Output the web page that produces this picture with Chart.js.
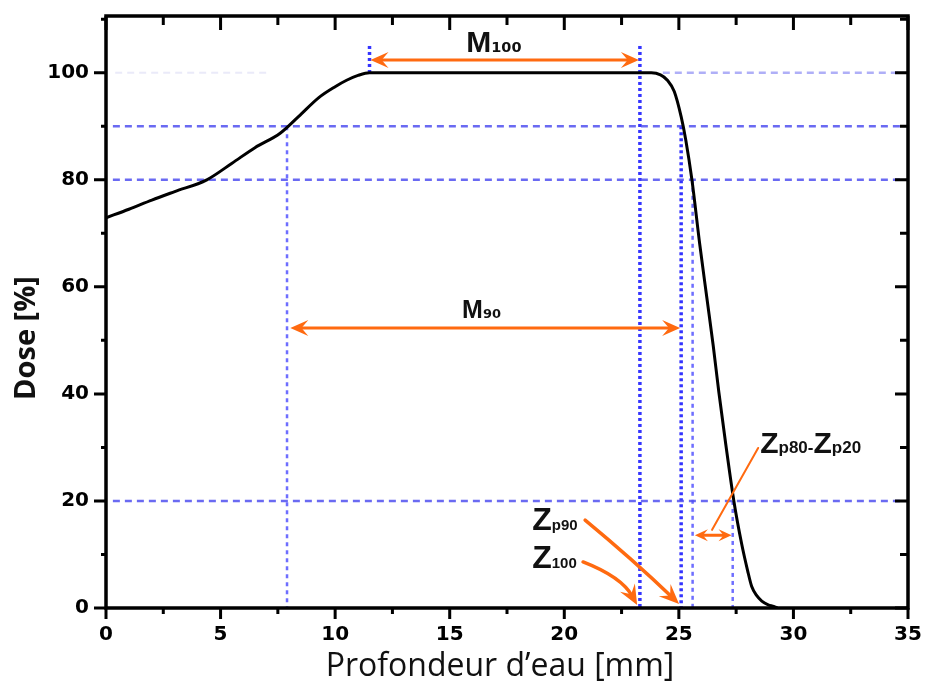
<!DOCTYPE html>
<html>
<head>
<meta charset="utf-8">
<script src="https://cdn.jsdelivr.net/npm/chart.js@4.4.1/dist/chart.umd.min.js"></script>
<style>
  html, body { margin: 0; padding: 0; background: #fff; }
</style>
</head>
<body>
<canvas id="doseChart" width="926" height="690"></canvas>
<script>
// Depth-dose curve
const depth = [0, 1, 2, 3, 4.4, 5.5, 6.5, 7.6, 8.4, 9.3, 10, 10.5, 11, 11.5,
  23.8, 24.2, 24.5, 24.8, 25.1, 25.3, 25.57, 25.91, 26.22, 26.5, 26.74, 27.05,
  27.4, 27.74, 28.0, 28.18, 28.4, 28.62, 28.9, 29.14, 29.3];
const dose = [72.9, 74.5, 76.2, 77.8, 80, 83.1, 86.0, 88.7, 91.8, 95.4, 97.4, 98.6, 99.5, 100,
  100, 99.6, 98.6, 96.5, 91.8, 87.5, 80, 68, 58, 49, 40.5, 30.5,
  20, 12, 7, 4, 2.3, 1.3, 0.6, 0.3, 0];

const xTicks = [0, 5, 10, 15, 20, 25, 30, 35];
const yTicks = [0, 20, 40, 60, 80, 100];

// dashed dose levels and dotted depth markers
const levels = [90, 80, 20];
const markerX = [7.9, 11.5, 23.3, 25.1, 25.6, 27.35];
const markerTop = [90, 105, 105, 90, 80, 20];
const markerBottom = [0, 100, 0, 0, 0, 0];

const heavyDot = { color: '#3434ff', width: 3.5, dash: [3, 3] };
const lightDash = { color: 'rgba(85,85,255,0.85)', width: 2.5, dash: [4, 4] };
const markerStyles = [lightDash, heavyDot, heavyDot, heavyDot, lightDash, lightDash];

function lineSet(points, style) {
  return {
    data: points, showLine: true, pointRadius: 0, fill: false,
    borderColor: style.color, borderWidth: style.width, borderDash: style.dash,
    tension: 0
  };
}

const datasets = [{
  data: depth.map((d, i) => ({ x: d, y: dose[i] })),
  showLine: true, pointRadius: 0, fill: false,
  borderColor: '#000', borderWidth: 3,
  cubicInterpolationMode: 'monotone'
}];

levels.forEach(l => {
  datasets.push(lineSet([{ x: 0.3, y: l }, { x: 34.8, y: l }],
    { color: 'rgba(80,80,240,0.85)', width: 2.5, dash: [7, 5] }));
});
// the 100% level is only faintly drawn
datasets.push(lineSet([{ x: 24.3, y: 100 }, { x: 34.8, y: 100 }],
  { color: 'rgba(110,110,240,0.55)', width: 2.5, dash: [7, 5] }));
datasets.push(lineSet([{ x: 0.4, y: 100 }, { x: 7, y: 100 }],
  { color: 'rgba(170,170,230,0.25)', width: 2, dash: [7, 5] }));

markerX.forEach((m, i) => {
  datasets.push(lineSet([{ x: m, y: markerTop[i] }, { x: m, y: markerBottom[i] }], markerStyles[i]));
});

const orange = '#ff6a10';

function head(ctx, x, y, ang, len, wid) {
  ctx.save();
  ctx.translate(x, y);
  ctx.rotate(ang);
  ctx.beginPath();
  ctx.moveTo(0, 0);
  ctx.lineTo(-len, -wid / 2);
  ctx.lineTo(-len * 0.62, 0);
  ctx.lineTo(-len, wid / 2);
  ctx.closePath();
  ctx.fill();
  ctx.restore();
}

function subText(ctx, main, sub, x, y, mainFont, subFont) {
  ctx.font = mainFont;
  ctx.fillText(main, x, y);
  const w = ctx.measureText(main).width;
  ctx.font = subFont;
  ctx.fillText(sub, x + w, y);
  return x + w + ctx.measureText(sub).width;
}

// no extra room for overhanging tick labels
function noPad(s) {
  s.paddingLeft = 0; s.paddingRight = 0; s.paddingTop = 0; s.paddingBottom = 0;
}

const framePlugin = {
  id: 'frame',
  afterDraw(chart) {
    const { ctx, chartArea: a, scales: { x, y } } = chart;
    const px = v => x.getPixelForValue(v);
    const py = v => y.getPixelForValue(v);
    ctx.save();

    // box and ticks
    ctx.strokeStyle = '#000';
    ctx.lineWidth = 3.5;
    ctx.strokeRect(a.left, a.top, a.right - a.left, a.bottom - a.top);
    ctx.lineWidth = 3;
    ctx.beginPath();
    for (let v = 0; v <= 35; v += 2.5) {
      const major = v % 5 === 0;
      const p = px(v);
      ctx.moveTo(p, a.bottom); ctx.lineTo(p, a.bottom + (major ? 11 : 6));
      ctx.moveTo(p, a.top); ctx.lineTo(p, a.top + (major ? 14 : 9));
    }
    for (let v = 0; v <= 110; v += 10) {
      const major = v % 20 === 0;
      const p = py(v);
      ctx.moveTo(a.left, p); ctx.lineTo(a.left - (major ? 12 : 5), p);
      ctx.moveTo(a.right, p); ctx.lineTo(a.right - (major ? 13 : 8), p);
    }
    ctx.stroke();

    // axis titles
    ctx.fillStyle = '#111';
    ctx.textAlign = 'center';
    ctx.textBaseline = 'middle';
    ctx.font = '32px "Open Sans"';
    ctx.fillText('Profondeur d\u2019eau [mm]', 500, 667);
    ctx.save();
    ctx.translate(27, 338);
    ctx.rotate(-Math.PI / 2);
    ctx.font = 'bold 29px "Open Sans"';
    ctx.fillText('Dose [%]', 0, 0);
    ctx.restore();

    // orange arrows
    ctx.strokeStyle = orange;
    ctx.fillStyle = orange;
    ctx.lineCap = 'round';

    // M100 and M90 double arrows
    [[11.5, 23.3, 102.4], [8.0, 25.1, 52.3]].forEach(([f, t, lv]) => {
      const x1 = px(f) + 1, x2 = px(t) - 1, yy = py(lv);
      ctx.lineWidth = 3;
      ctx.beginPath(); ctx.moveTo(x1 + 8, yy); ctx.lineTo(x2 - 8, yy); ctx.stroke();
      head(ctx, x1, yy, Math.PI, 18, 16);
      head(ctx, x2, yy, 0, 18, 16);
    });

    // Zp80-Zp20 double arrow
    {
      const x1 = px(25.7), x2 = px(27.3), yy = py(13.6);
      ctx.lineWidth = 3;
      ctx.beginPath(); ctx.moveTo(x1 + 6, yy); ctx.lineTo(x2 - 6, yy); ctx.stroke();
      head(ctx, x1, yy, Math.PI, 13, 12);
      head(ctx, x2, yy, 0, 13, 12);
    }
    // pointer line to Zp80-Zp20 label
    ctx.lineWidth = 2;
    ctx.beginPath(); ctx.moveTo(px(28.46), py(29.9)); ctx.lineTo(px(26.45), py(14.6)); ctx.stroke();

    // Z100 and Zp90 arrows
    ctx.lineWidth = 3.5;
    [[20.82, 8.6, 22.5, 5.8, 23.18, 0.56], [20.91, 16.4, 23.0, 9.0, 25.01, 0.75]].forEach(
      ([sx, sy, cx, cy, tx, ty]) => {
        const x0 = px(sx), y0 = py(sy), x1 = px(cx), y1 = py(cy), x2 = px(tx), y2 = py(ty);
        const ang = Math.atan2(y2 - y1, x2 - x1);
        ctx.beginPath();
        ctx.moveTo(x0, y0);
        ctx.quadraticCurveTo(x1, y1, x2 - Math.cos(ang) * 10, y2 - Math.sin(ang) * 10);
        ctx.stroke();
        head(ctx, x2, y2, ang, 20, 17);
      });

    // labels
    ctx.fillStyle = '#111';
    ctx.textAlign = 'left';
    ctx.textBaseline = 'alphabetic';
    subText(ctx, 'M', '100', px(15.72), py(103.9), 'bold 30px "Liberation Sans"', 'bold 14.5px "DejaVu Sans"');
    subText(ctx, 'M', '90', px(15.54), py(54.2), 'bold 25px "Liberation Sans"', 'bold 13px "DejaVu Sans"');
    subText(ctx, 'Z', 'p90', px(18.6), py(14.6), 'bold 32px "Liberation Sans"', 'bold 15px "Liberation Sans"');
    subText(ctx, 'Z', '100', px(18.6), py(7.5), 'bold 32px "Liberation Sans"', 'bold 15px "Liberation Sans"');
    let cx = subText(ctx, 'Z', 'p80', px(28.55), py(29.0), 'bold 30px "Liberation Sans"', 'bold 17px "Liberation Sans"');
    ctx.font = 'bold 17px "Liberation Sans"';
    ctx.fillText('-', cx, py(29.0));
    cx += ctx.measureText('-').width;
    subText(ctx, 'Z', 'p20', cx, py(29.0), 'bold 30px "Liberation Sans"', 'bold 17px "Liberation Sans"');

    ctx.restore();
  }
};

const tickFont = { family: 'DejaVu Sans', weight: 'bold', size: 20 };

new Chart(document.getElementById('doseChart'), {
  type: 'scatter',
  data: { datasets: datasets },
  options: {
    responsive: false,
    animation: false,
    devicePixelRatio: 1,
    layout: { autoPadding: false, padding: { top: 16, right: 18, left: 0, bottom: 0 } },
    plugins: { legend: { display: false }, tooltip: { enabled: false } },
    scales: {
      x: {
        type: 'linear', min: 0, max: 35,
        afterBuildTicks: s => { s.ticks = xTicks.map(v => ({ value: v })); },
        afterFit: s => { s.height = 82; noPad(s); },
        grid: { display: false, drawTicks: false },
        border: { display: false },
        ticks: { padding: 15, font: tickFont, color: '#000' }
      },
      y: {
        type: 'linear', min: 0, max: 110.6,
        afterBuildTicks: s => { s.ticks = yTicks.map(v => ({ value: v })); },
        afterFit: s => { s.width = 106; noPad(s); },
        grid: { display: false, drawTicks: false },
        border: { display: false },
        ticks: { padding: 17, font: tickFont, color: '#000' }
      }
    }
  },
  plugins: [framePlugin]
});
</script>
</body>
</html>
